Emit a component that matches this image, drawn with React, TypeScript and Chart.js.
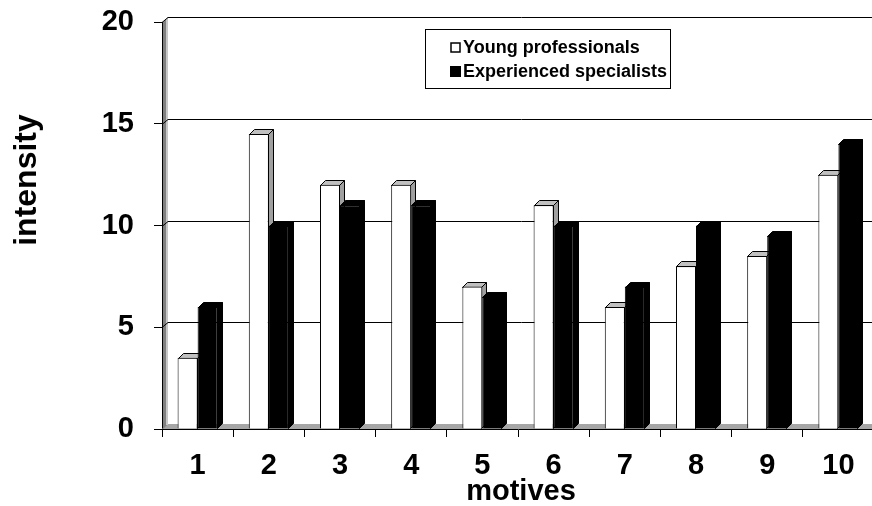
import React, { useEffect, useRef } from 'react';
import { Chart, registerables } from 'chart.js';

Chart.register(...registerables);

const categories = ['1', '2', '3', '4', '5', '6', '7', '8', '9', '10'];
const youngProfessionals = [3.5, 14.5, 12, 12, 7, 11, 6, 8, 8.5, 12.5];
const experiencedSpecialists = [6, 10, 11, 11, 6.5, 10, 7, 10, 9.5, 14];
const seriesLabels = ['Young professionals', 'Experienced specialists'];
const yTicks = [0, 5, 10, 15, 20];
const xTitle = 'motives';
const yTitle = 'intensity';

const FONT = '"Liberation Sans", Arial, sans-serif';
const D = 5;

const threeD = {
  id: 'threeD',
  beforeDatasetsDraw(chart: any) {
    const { ctx, chartArea } = chart;
    const L = chartArea.left, T = chartArea.top, R = chartArea.right, B = chartArea.bottom;
    const ys = chart.scales.y;
    ctx.save();
    // floor
    ctx.fillStyle = '#a6a6a6';
    ctx.beginPath();
    ctx.moveTo(L, B);
    ctx.lineTo(L + D, B - D);
    ctx.lineTo(R + D, B - D);
    ctx.lineTo(R, B);
    ctx.closePath();
    ctx.fill();
    // left wall
    ctx.fillStyle = '#808080';
    ctx.beginPath();
    ctx.moveTo(L + 1, T);
    ctx.lineTo(L + 1 + D, T - D);
    ctx.lineTo(L + 1 + D, B - D);
    ctx.lineTo(L + 1, B);
    ctx.closePath();
    ctx.fill();
    ctx.fillStyle = '#c8c8c8';
    ctx.fillRect(L + D - 1, T - D + 1, 2, B - T);
    // back gridlines
    ctx.strokeStyle = '#000';
    ctx.lineWidth = 1;
    for (const v of yTicks) {
      if (v === 0) continue;
      const py = Math.round(ys.getPixelForValue(v)) + 0.5;
      ctx.beginPath();
      ctx.moveTo(L, py);
      ctx.lineTo(L + D + 1, py - D);
      ctx.lineTo(R + 10, py - D);
      ctx.stroke();
    }
    // depth faces of bars
    chart.data.datasets.forEach((ds: any, i: number) => {
      const meta = chart.getDatasetMeta(i);
      const dark = i === 1;
      meta.data.forEach((el: any) => {
        const p = el.getProps(['x', 'y', 'base', 'width'], true);
        const x1 = Math.round(p.x - p.width / 2) + 0.5;
        const x2 = Math.round(p.x + p.width / 2) - 0.5;
        const top = Math.round(p.y) + 0.5;
        const base = Math.round(p.base) - 0.5;
        // side
        ctx.beginPath();
        ctx.moveTo(x2, top);
        ctx.lineTo(x2 + D, top - D);
        ctx.lineTo(x2 + D, base - D);
        ctx.lineTo(x2, base);
        ctx.closePath();
        ctx.fillStyle = dark ? '#000' : '#a0a0a0';
        ctx.fill();
        ctx.strokeStyle = '#000';
        ctx.stroke();
        // top
        ctx.beginPath();
        ctx.moveTo(x1, top);
        ctx.lineTo(x1 + D, top - D);
        ctx.lineTo(x2 + D, top - D);
        ctx.lineTo(x2, top);
        ctx.closePath();
        ctx.fillStyle = dark ? '#000' : '#c0c0c0';
        ctx.fill();
        ctx.stroke();
      });
    });
    ctx.restore();
  },
  afterDraw(chart: any) {
    const { ctx } = chart;
    ctx.save();
    // legend box
    ctx.fillStyle = '#fff';
    ctx.fillRect(425.5, 29.5, 245, 59);
    ctx.strokeStyle = '#000';
    ctx.lineWidth = 1;
    ctx.strokeRect(425.5, 29.5, 245, 59);
    // markers
    ctx.lineWidth = 1.5;
    ctx.strokeRect(451, 43, 9, 9);
    ctx.fillStyle = '#000';
    ctx.fillRect(450, 66, 11, 11);
    ctx.font = `bold 18px ${FONT}`;
    ctx.textBaseline = 'middle';
    ctx.textAlign = 'left';
    ctx.fillText(chart.data.datasets[0].label, 463, 48);
    ctx.fillText(chart.data.datasets[1].label, 463, 72);
    // axis titles
    ctx.font = `bold 29px ${FONT}`;
    ctx.textAlign = 'center';
    ctx.fillText(xTitle, 521, 492);
    ctx.translate(27, 180);
    ctx.rotate(-Math.PI / 2);
    ctx.font = `bold 32px ${FONT}`;
    ctx.fillText(yTitle, 0, 0);
    ctx.restore();
  },
};

export default function App() {
  const ref = useRef<HTMLCanvasElement | null>(null);
  useEffect(() => {
    const canvas = ref.current;
    if (!canvas) return;
    const chart = new Chart(canvas, {
      type: 'bar',
      data: {
        labels: categories,
        datasets: [
          {
            label: seriesLabels[0],
            data: youngProfessionals,
            backgroundColor: '#ffffff',
            borderColor: '#000000',
            borderWidth: 1,
          },
          {
            label: seriesLabels[1],
            data: experiencedSpecialists,
            backgroundColor: '#000000',
            borderColor: '#000000',
            borderWidth: 1,
          },
        ],
      },
      options: {
        responsive: false,
        animation: false,
        devicePixelRatio: 1,
        layout: { padding: { top: 22, left: 0, right: 0, bottom: 0 } },
        datasets: { bar: { categoryPercentage: 0.562, barPercentage: 1 } },
        plugins: { legend: { display: false }, tooltip: { enabled: false } },
        scales: {
          x: {
            afterFit: (s: any) => { s.height = 77; s.paddingLeft = 0; s.paddingRight = 0; },
            grid: { drawOnChartArea: false, drawTicks: true, tickLength: 8, color: '#000', offset: true },
            border: { display: true, color: '#000', width: 1 },
            ticks: { color: '#000', padding: 12, font: { family: FONT, size: 29, weight: 'bold' } },
          },
          y: {
            min: 0,
            max: 20,
            afterFit: (s: any) => { s.width = 162; s.paddingTop = 0; s.paddingBottom = 0; },
            afterBuildTicks: (s: any) => { s.ticks = yTicks.map((v) => ({ value: v })); },
            grid: { drawOnChartArea: false, drawTicks: true, tickLength: 8, color: '#000' },
            border: { display: true, color: '#000', width: 1 },
            ticks: { color: '#000', padding: 20, font: { family: FONT, size: 29, weight: 'bold' } },
          },
        },
      },
      plugins: [threeD],
    } as any);
    return () => chart.destroy();
  }, []);
  return (
    <div style={{ position: 'fixed', left: 0, top: 0, width: 872, height: 506, overflow: 'hidden', background: '#fff' }}>
      <canvas ref={ref} width={874} height={506} style={{ display: 'block' }} />
    </div>
  );
}
